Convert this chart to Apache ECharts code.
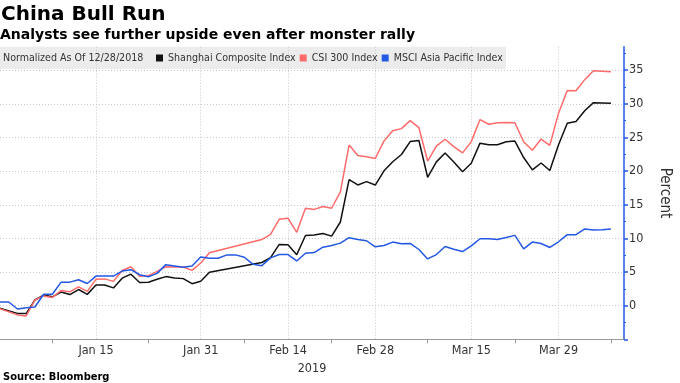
<!DOCTYPE html>
<html><head><meta charset="utf-8">
<script src="https://cdn.jsdelivr.net/npm/echarts@6/dist/echarts.min.js"></script>
<style>html,body{margin:0;padding:0;background:#fff}#c{width:680px;height:383px}</style>
</head><body><div id="c"></div><script>
const dates = [
'2018-12-28',
'2018-12-31','2019-01-01','2019-01-02','2019-01-03','2019-01-04',
'2019-01-07','2019-01-08','2019-01-09','2019-01-10','2019-01-11',
'2019-01-14','2019-01-15','2019-01-16','2019-01-17','2019-01-18',
'2019-01-21','2019-01-22','2019-01-23','2019-01-24','2019-01-25',
'2019-01-28','2019-01-29','2019-01-30','2019-01-31','2019-02-01',
'2019-02-04','2019-02-05','2019-02-06','2019-02-07','2019-02-08',
'2019-02-11','2019-02-12','2019-02-13','2019-02-14','2019-02-15',
'2019-02-18','2019-02-19','2019-02-20','2019-02-21','2019-02-22',
'2019-02-25','2019-02-26','2019-02-27','2019-02-28','2019-03-01',
'2019-03-04','2019-03-05','2019-03-06','2019-03-07','2019-03-08',
'2019-03-11','2019-03-12','2019-03-13','2019-03-14','2019-03-15',
'2019-03-18','2019-03-19','2019-03-20','2019-03-21','2019-03-22',
'2019-03-25','2019-03-26','2019-03-27','2019-03-28','2019-03-29',
'2019-04-01','2019-04-02','2019-04-03','2019-04-04','2019-04-05',
'2019-04-08'];

const shanghai = [0,
null,null,-1.15,-1.18,0.84,
1.57,1.31,2.02,1.65,2.40,
1.68,3.07,3.06,2.64,4.09,
4.68,3.44,3.49,3.92,4.32,
4.13,4.02,3.27,3.63,4.98,
null,null,null,null,null,
6.42,7.14,9.11,9.05,7.56,
10.44,10.50,10.72,10.34,12.44,
18.74,17.95,18.44,17.93,20.05,
21.40,22.47,24.39,24.56,19.09,
21.38,22.71,21.37,19.92,21.17,
24.16,23.94,23.93,24.36,24.47,
22.02,20.18,21.21,20.09,23.93,
27.12,27.38,28.97,30.18,null,
30.11];

const csi300 = [0,
null,null,-1.37,-1.52,0.84,
1.45,1.23,2.25,2.06,2.79,
2.12,3.91,3.98,3.61,5.23,
5.78,4.36,4.46,5.09,5.77,
5.74,5.74,5.24,6.34,7.86,
null,null,null,null,null,
9.83,10.61,12.85,13.00,10.90,
14.48,14.31,14.75,14.48,16.92,
23.87,22.33,22.13,21.88,24.49,
26.01,26.32,27.51,26.46,21.50,
23.73,24.74,23.64,22.71,24.39,
27.67,26.97,27.20,27.24,27.19,
24.37,23.10,24.77,23.84,28.62,
31.99,31.96,33.60,34.93,null,
34.76];

const msciAP = [0,
0.55,0.55,-0.5,-0.3,-0.2,
1.7,1.7,3.5,3.5,3.85,
3.3,4.4,4.4,4.4,5.15,
5.35,4.6,4.3,4.8,6.1,
5.9,5.7,5.9,7.25,7.05,
7.05,7.55,7.55,7.2,6.15,
5.95,7.1,7.6,7.6,6.65,
7.8,7.9,8.7,8.95,9.3,
10.1,9.85,9.65,8.75,8.95,
9.45,9.2,9.25,8.35,6.95,
7.6,8.8,8.4,8.05,8.9,
9.95,9.95,9.85,10.15,10.45,
8.45,9.45,9.25,8.65,9.5,
10.55,10.55,11.4,11.25,11.3,
11.4];

const seriesNames = ['Shanghai Composite Index','CSI 300 Index','MSCI Asia Pacific Index'];
const labelDates = ['2019-01-15','2019-01-31','2019-02-14','2019-02-28','2019-03-15','2019-03-29'];
const labelTexts = ['Jan 15','Jan 31','Feb 14','Feb 28','Mar 15','Mar 29'];
const minorTickDates = ['2019-01-08','2019-01-23','2019-02-07','2019-02-21','2019-03-08','2019-03-22','2019-04-08'];
const yLabelValues = [0,5,10,15,20,25,30,35];
const yTickValues = [-5,0,5,10,15,20,25,30,35];
const yMinorTickValues = [-2.5,2.5,7.5,12.5,17.5,22.5,27.5,32.5,37.5];

const BLACK = '#111111', RED = '#ff6b6b', BLUE = '#2358e3';
const FONT = '"DejaVu Sans Condensed", "DejaVu Sans", sans-serif';
const startIdx = dates.indexOf('2018-12-31');
const pos = d => dates.indexOf(d) - startIdx;
const labelPos = labelDates.map(pos);
const minorPos = minorTickDates.map(pos);
const toPairs = vals => vals.map((v, i) => [i - startIdx, v]);

const chart = echarts.init(document.getElementById('c'), null, {renderer: 'canvas'});
const xCommon = {type: 'value', min: 0, max: 71.5, position: 'bottom'};
const yCommon = {type: 'value', min: -5, max: 38.5, interval: 5, position: 'right'};
const GRIDLINE = {show: true, lineStyle: {type: [1, 2], color: '#c8c8c8', width: 1}};
chart.setOption({
  animation: false,
  backgroundColor: '#fff',
  grid: {left: 0, right: 44.3, top: 46.7, bottom: 43.7, containLabel: false},
  graphic: [
    {type: 'rect', z: -10, shape: {x: 0, y: 46.7, width: 506, height: 22.6}, style: {fill: '#ececec'}},
    {type: 'text', z: 10, x: 1, y: 14.5, style: {text: 'China Bull Run', font: 'bold 20px "DejaVu Sans"', fill: '#000', verticalAlign: 'middle', textVerticalAlign: 'middle'}},
    {type: 'text', z: 10, x: 0, y: 35, style: {text: 'Analysts see further upside even after monster rally', font: 'bold 14px "DejaVu Sans"', fill: '#000', verticalAlign: 'middle', textVerticalAlign: 'middle'}},
    {type: 'text', z: 10, x: 3, y: 58, style: {text: 'Normalized As Of 12/28/2018', font: '10.6px ' + FONT, fill: '#333', verticalAlign: 'middle', textVerticalAlign: 'middle'}},
    {type: 'text', z: 10, x: 3, y: 377, style: {text: 'Source: Bloomberg', font: 'bold 11px ' + FONT, fill: '#000', verticalAlign: 'middle', textVerticalAlign: 'middle'}}
  ],
  legend: {
    left: 156, top: 52, padding: 0, itemGap: 4, itemWidth: 7, itemHeight: 7, icon: 'rect',
    selectedMode: false,
    textStyle: {fontFamily: FONT, fontSize: 10.6, color: '#333', lineHeight: 12},
    data: seriesNames
  },
  xAxis: [
    Object.assign({}, xCommon, {
      axisLine: {show: true, onZero: false, lineStyle: {color: '#999', width: 1}},
      axisTick: {show: false, customValues: labelPos},
      axisLabel: {customValues: labelPos, margin: 5, color: '#333', fontFamily: FONT, fontSize: 12.5,
        formatter: v => labelTexts[labelPos.indexOf(v)] || ''},
      splitLine: GRIDLINE,
      name: '2019', nameLocation: 'middle', nameGap: 20,
      nameTextStyle: {fontFamily: FONT, fontSize: 12.5, color: '#333'}
    }),
    Object.assign({}, xCommon, {
      axisLine: {show: false, onZero: false},
      axisTick: {show: true, customValues: minorPos, length: 4, lineStyle: {color: '#999', width: 1}},
      axisLabel: {show: false},
      splitLine: {show: false}
    })
  ],
  yAxis: [
    Object.assign({}, yCommon, {
      axisLine: {show: true, onZero: false, lineStyle: {color: BLUE, width: 1.5}},
      axisTick: {show: true, length: 4, customValues: yTickValues, lineStyle: {color: BLUE, width: 1.5}},
      axisLabel: {customValues: yLabelValues, margin: 5, color: '#333', fontFamily: FONT, fontSize: 12.5},
      splitLine: GRIDLINE,
      name: 'Percent', nameLocation: 'middle', nameRotate: -90, nameGap: 33,
      nameTextStyle: {fontFamily: FONT, fontSize: 15, color: '#333'}
    }),
    Object.assign({}, yCommon, {
      axisLine: {show: false, onZero: false},
      axisTick: {show: true, length: 2, customValues: yMinorTickValues, lineStyle: {color: BLUE, width: 1}},
      axisLabel: {show: false},
      splitLine: {show: false}
    })
  ],
  series: [
    {name: seriesNames[0], type: 'line', data: toPairs(shanghai), color: BLACK},
    {name: seriesNames[1], type: 'line', data: toPairs(csi300), color: RED},
    {name: seriesNames[2], type: 'line', data: toPairs(msciAP), color: BLUE}
  ].map(s => Object.assign(s, {xAxisIndex: 0, yAxisIndex: 0, showSymbol: false, symbol: 'none',
    connectNulls: true, clip: true, lineStyle: {width: 1.5, color: s.color}, z: 3}))
});
</script></body></html>
